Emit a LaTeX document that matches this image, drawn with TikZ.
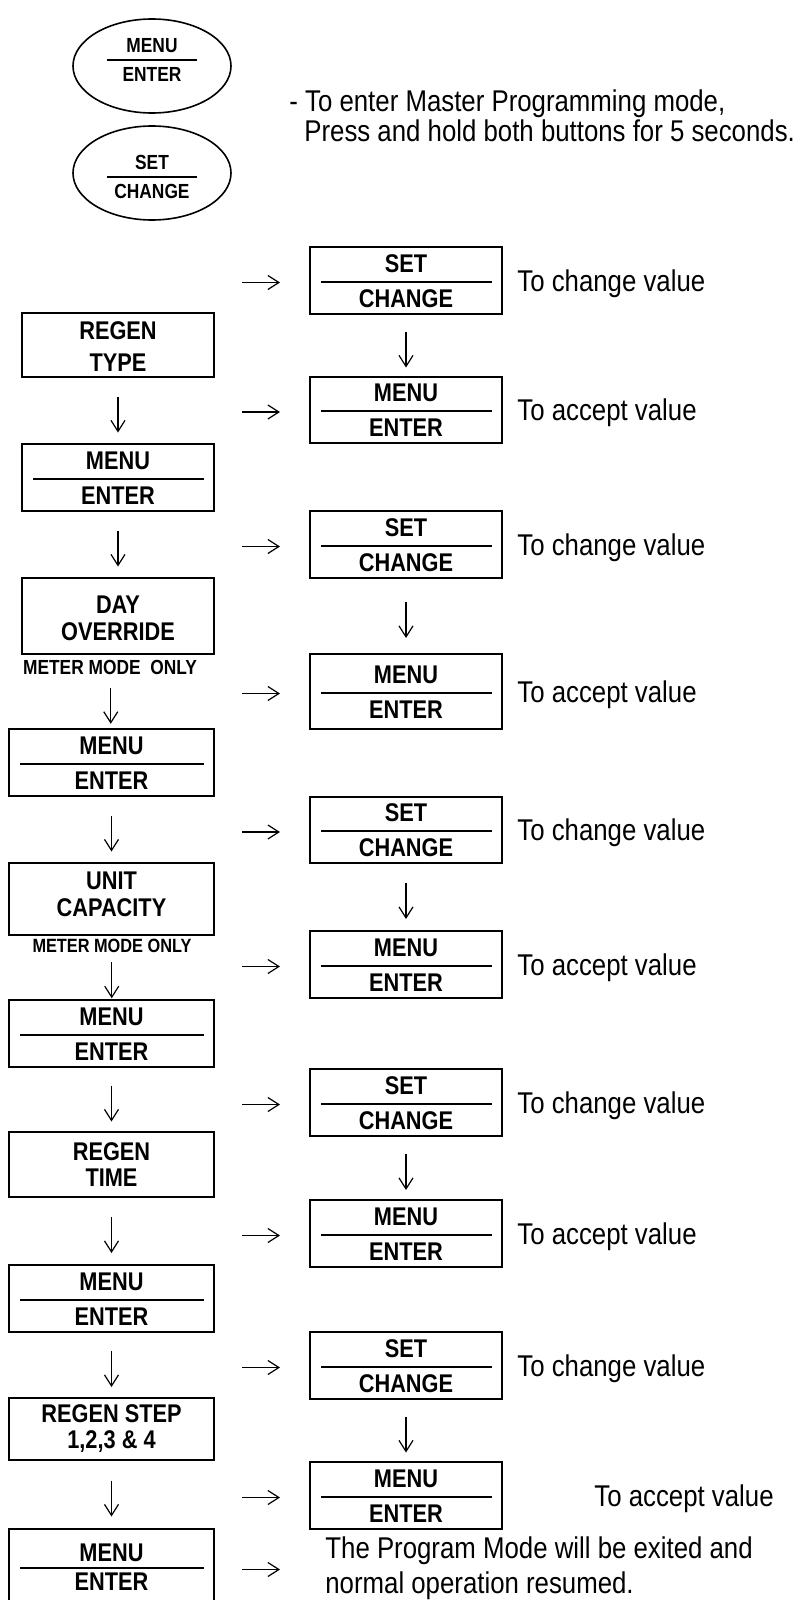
\documentclass[tikz,border=0pt]{standalone}
\usepackage{fontspec}
\setmainfont{Liberation Sans}[FakeStretch=0.86]
\newfontfamily\boxfont{Liberation Sans}[FakeStretch=0.85]
\usetikzlibrary{arrows.meta,calc,shapes.geometric}
\tikzset{
  boxst/.style={draw, line width=1pt, inner sep=0pt, outer sep=0pt},
  ellst/.style={draw, ellipse, line width=0.8pt, inner sep=0pt, outer sep=0pt},
  midline/.style={line width=0.85pt},
  lab/.style={font=\boxfont\bfseries\fontsize{12.8}{15}\selectfont, inner sep=0pt, text height=9.2pt, text depth=0pt},
  ellab/.style={font=\boxfont\bfseries\fontsize{10.2}{12}\selectfont, inner sep=0pt, text height=7.3pt, text depth=0pt},
  meter/.style={font=\boxfont\bfseries\fontsize{#1}{12}\selectfont, inner sep=0pt, text height=7.2pt, text depth=0pt},
  note/.style={font=\fontsize{15}{18}\selectfont, inner sep=0pt, text height=10.7pt, text depth=0pt, anchor=west},
  arr/.style={line width=0.6pt, -{Straight Barb[length=5.5pt,width=7pt]}},
}
\newcommand\PlainBox[9]{%
  \node[boxst, minimum width={(#4-#2)*0.5pt}, minimum height={(#5-#3)*0.5pt}] (#1) at ({(#2+#4)/2},{(#3+#5)/2}) {};
  \node[lab] (#1-a) at ({(#2+#4)/2},#7) {#6};
  \node[lab] (#1-b) at ({(#2+#4)/2},#9) {#8};
}
\newcommand\SplitBox[9]{%
  \node[boxst, minimum width={(#4-#2)*0.5pt}, minimum height={(#5-#3)*0.5pt}] (#1) at ({(#2+#4)/2},{(#3+#5)/2}) {};
  \draw[midline] ({#2+11},#6) -- ({#4-10},#6);
  \node[lab] (#1-a) at ({(#2+#4)/2},{#6-#7}) {#8};
  \node[lab] (#1-b) at ({(#2+#4)/2},{#6+#7-3}) {#9};
}
\newcommand\DownArr[2]{\draw[arr] ($(#1.south)!0.5!(#2.north)+(0,-14)$) -- ($(#1.south)!0.5!(#2.north)+(0,22)$);}
\newcommand\RightArr[1]{\draw[arr] ($(#1.west)+(-68,2)$) -- ($(#1.west)+(-30,2)$);}
\begin{document}
\begin{tikzpicture}[x=0.5pt,y=-0.5pt]
\fill[white] (0,0) rectangle (812,1600);
\useasboundingbox (0,0) rectangle (812,1600);

% buttons
\node[ellst, minimum width=79pt, minimum height=47pt] (e1) at (152,66) {};
\draw[midline] (107,60) -- (197,60);
\node[ellab] (e1a) at (152,45) {MENU};
\node[ellab] (e1b) at (152,74) {ENTER};
\node[ellst, minimum width=79pt, minimum height=47pt] (e2) at (152,173) {};
\draw[midline] (107,177) -- (197,177);
\node[ellab] (e2a) at (152,162) {SET};
\node[ellab] (e2b) at (152,191) {CHANGE};
\node[note] (intro1) at (289,101) {- To enter Master Programming mode,};
\node[note] (intro2) at (304,131) {Press and hold both buttons for 5 seconds.};

% left column
\PlainBox{rt}{22}{313}{214}{377}{REGEN}{330}{TYPE}{362}
\SplitBox{lm1}{22}{444}{214}{511}{479}{19}{MENU}{ENTER}
\PlainBox{day}{22}{578}{214}{654}{DAY}{604}{OVERRIDE}{631}
\node[meter=10.2] (met1) at (110,667) {METER MODE\ \ ONLY};
\SplitBox{lm2}{9}{729}{214}{796}{764}{19}{MENU}{ENTER}
\PlainBox{unit}{9}{863}{214}{935}{UNIT}{880}{CAPACITY}{907}
\node[meter=9.6] (met2) at (112,945) {METER MODE ONLY};
\SplitBox{lm3}{9}{1000}{214}{1067}{1035}{19}{MENU}{ENTER}
\PlainBox{rtime}{9}{1132}{214}{1197}{REGEN}{1151}{TIME}{1177}
\SplitBox{lm4}{9}{1265}{214}{1332}{1300}{19}{MENU}{ENTER}
\PlainBox{rstep}{9}{1398}{214}{1460}{REGEN STEP}{1413}{1,2,3 \& 4}{1439}
\SplitBox{lm5}{9}{1529}{214}{1606}{1568}{16}{MENU}{ENTER}

\DownArr{rt}{lm1}
\DownArr{lm1}{day}
\DownArr{met1}{lm2}
\DownArr{lm2}{unit}
\DownArr{met2}{lm3}
\DownArr{lm3}{rtime}
\DownArr{rtime}{lm4}
\DownArr{lm4}{rstep}
\DownArr{rstep}{lm5}

% right column
\SplitBox{s1}{310}{247}{502}{314}{282}{19}{SET}{CHANGE}
\SplitBox{n1}{310}{377}{502}{443}{411}{19}{MENU}{ENTER}
\SplitBox{s2}{310}{511}{502}{578}{546}{19}{SET}{CHANGE}
\SplitBox{n2}{310}{654}{502}{729}{693}{19}{MENU}{ENTER}
\SplitBox{s3}{310}{797}{502}{863}{831}{19}{SET}{CHANGE}
\SplitBox{n3}{310}{931}{502}{998}{966}{19}{MENU}{ENTER}
\SplitBox{s4}{310}{1069}{502}{1136}{1104}{19}{SET}{CHANGE}
\SplitBox{n4}{310}{1200}{502}{1267}{1235}{19}{MENU}{ENTER}
\SplitBox{s5}{310}{1332}{502}{1399}{1367}{19}{SET}{CHANGE}
\SplitBox{n5}{310}{1462}{502}{1529}{1497}{19}{MENU}{ENTER}

\DownArr{s1}{n1}
\DownArr{s2}{n2}
\DownArr{s3}{n3}
\DownArr{s4}{n4}
\DownArr{s5}{n5}

\RightArr{s1}\RightArr{n1}
\RightArr{s2}\RightArr{n2}
\RightArr{s3}\RightArr{n3}
\RightArr{s4}\RightArr{n4}
\RightArr{s5}\RightArr{n5}
\draw[arr] ($(lm5.east)+(28,2)$) -- ($(lm5.east)+(66,2)$);

% labels
\node[note] (c1) at ($(s1.east)+(15,0)$) {To change value};
\node[note] (a1) at ($(n1.east)+(15,0)$) {To accept value};
\node[note] (c2) at ($(s2.east)+(15,0)$) {To change value};
\node[note] (a2) at ($(n2.east)+(15,0)$) {To accept value};
\node[note] (c3) at ($(s3.east)+(15,0)$) {To change value};
\node[note] (a3) at ($(n3.east)+(15,0)$) {To accept value};
\node[note] (c4) at ($(s4.east)+(15,0)$) {To change value};
\node[note] (a4) at ($(n4.east)+(15,0)$) {To accept value};
\node[note] (c5) at ($(s5.east)+(15,0)$) {To change value};
\node[note] (a5) at ($(n5.east)+(92,0)$) {To accept value};
\node[note] (exit1) at (325,1548) {The Program Mode will be exited and};
\node[note] (exit2) at (325,1583) {normal operation resumed.};
\end{tikzpicture}
\end{document}
